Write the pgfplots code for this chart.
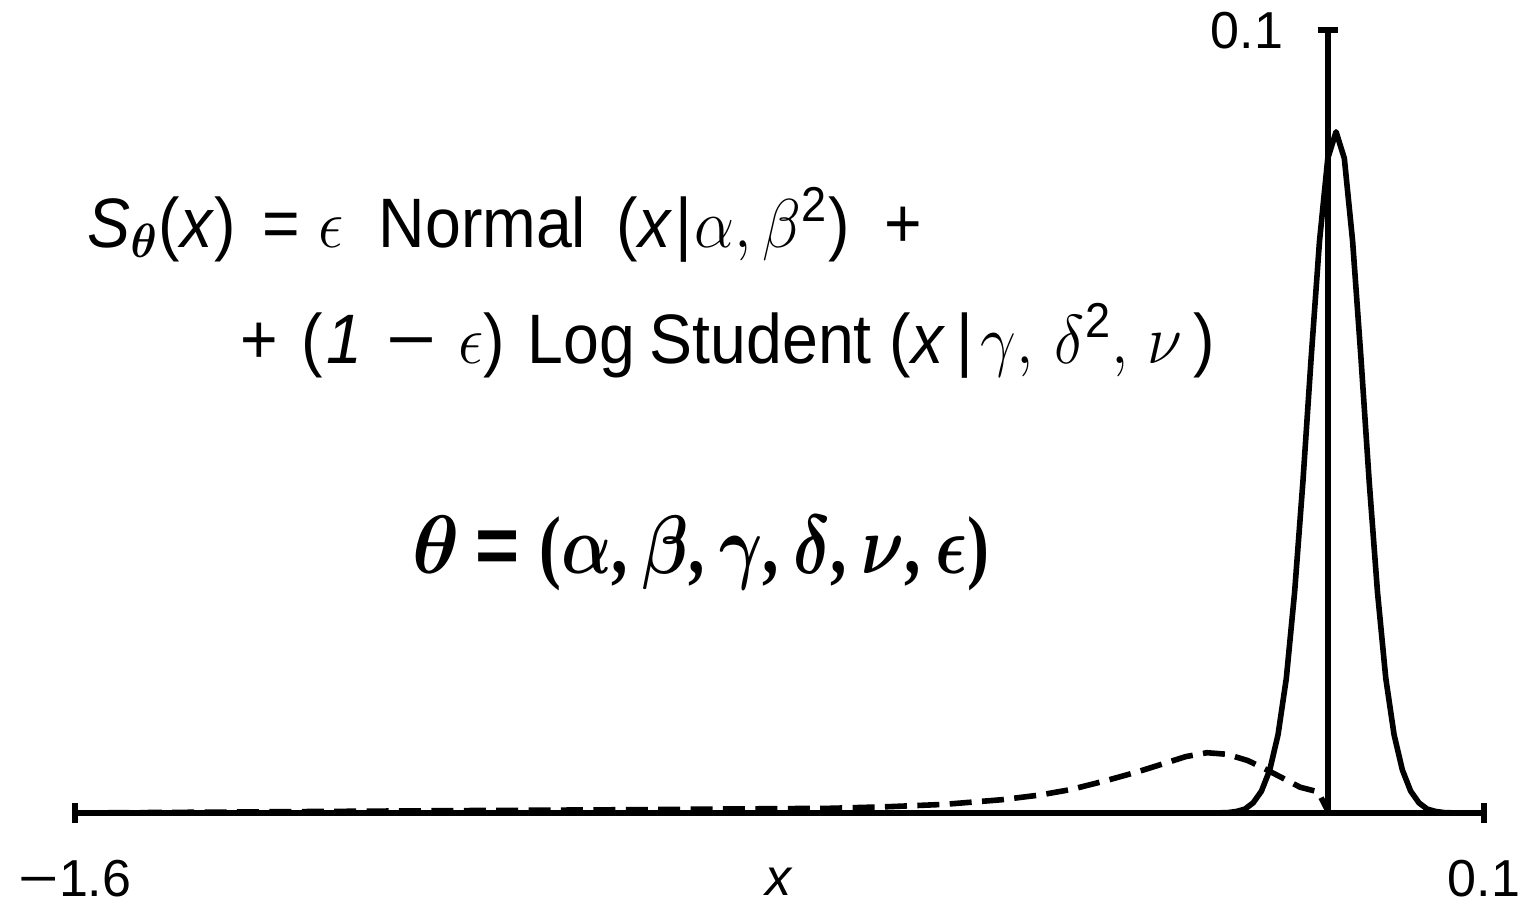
\documentclass[border=0pt]{standalone}
\usepackage{amsmath}
\usepackage{bm}
\usepackage{fontspec}
\setmainfont{Liberation Sans}
\newfontfamily\serifparen{Liberation Serif}
\usepackage{pgfplots}
\pgfplotsset{compat=1.18}

% Normal component (solid)
\pgfplotstableread{
x y
-1.6000 0
-0.2285 0
-0.2185 0.00002
-0.2085 0.00006
-0.1985 0.0002
-0.1885 0.0005
-0.1785 0.0013
-0.1685 0.0028
-0.1585 0.0055
-0.1485 0.0100
-0.1385 0.0172
-0.1285 0.0282
-0.1185 0.0423
-0.1085 0.0582
-0.0985 0.0730
-0.0885 0.0836
-0.0785 0.0870
-0.0685 0.0836
-0.0585 0.0730
-0.0485 0.0582
-0.0385 0.0423
-0.0285 0.0282
-0.0185 0.0172
-0.0085 0.0100
0.0015 0.0055
0.0115 0.0028
0.0215 0.0013
0.0315 0.0005
0.0415 0.0002
0.0515 0.00006
0.0615 0.00002
0.0715 0
0.1000 0
}\normaldens

% Log-Student component (dashed)
\pgfplotstableread{
x y
-1.6000 0.0000
-1.4500 0.0001
-1.3000 0.0002
-1.1500 0.0003
-0.9666 0.0004
-0.8278 0.0005
-0.6890 0.0006
-0.6203 0.0008
-0.5515 0.0011
-0.4815 0.0017
-0.4357 0.0023
-0.3983 0.0030
-0.3572 0.0041
-0.3198 0.0052
-0.2836 0.0064
-0.2600 0.0072
-0.2342 0.0077
-0.2100 0.0075
-0.1850 0.0067
-0.1618 0.0055
-0.1400 0.0043
-0.1220 0.0033
-0.1002 0.0027
-0.0890 0.0004
}\logstudent

\newcommand{\formulafont}{\fontsize{17.5}{21}\selectfont}
\newcommand{\paramfont}{\fontsize{20.5}{24}\selectfont}
\newcommand{\tickfont}{\fontsize{13}{15}\selectfont}
\newcommand{\bparen}[1]{\text{\serifparen\bfseries #1}}
\newcommand{\bcomma}{\text{\serifparen\bfseries ,}\hspace{4.5pt}}
\newcommand{\longminus}{\scalebox{1.33}[1]{−}}
\newcommand{\paramvec}{$\scalebox{1.2}[1]{$\bm{\theta}$}\hspace{5pt}\text{\scalebox{1.15}[1]{\bfseries =}}\hspace{6pt}\bparen{(}\bm{\alpha}\bcomma\bm{\beta}\bcomma\bm{\gamma}\bcomma\bm{\delta}\bcomma\bm{\nu}\bcomma\bm{\epsilon}\bparen{)}$}

\tikzset{
  ftext/.style={anchor=base west, inner sep=0pt, font=\formulafont, xscale=0.92},
}

\begin{document}
\begin{tikzpicture}
\begin{axis}[
  scale only axis,
  width=352.25pt, height=195.75pt,
  xmin=-1.6, xmax=0.1, ymin=0, ymax=0.1,
  axis x line=bottom, axis y line=none,
  axis line style={line width=1.4pt, -},
  xtick={-1.6,0.1},
  xticklabels={{\mbox{\longminus1.6}},{\mbox{0.1}}},
  ytick=\empty,
  tick align=center,
  major tick length=5pt,
  tick style={line width=1.3pt, black},
  xticklabel style={font=\tickfont, anchor=base, yshift=-18.4pt, inner sep=0pt},
  xlabel={\textit{x}},
  x label style={at={(axis description cs:0.5,0)}, anchor=base, yshift=-20.6pt, inner sep=0pt, font=\tickfont},
  clip=false,
]
\addplot[black, line width=1.4pt, line join=round] table {\normaldens};
\addplot[black, line width=1.4pt, dash pattern=on 5.5pt off 2.6pt] table {\logstudent};

\coordinate (origin) at (axis cs:-1.6,0);
\coordinate (ybot) at (axis cs:-0.0882,0);
\coordinate (ytop) at (axis cs:-0.0882,0.1);
\end{axis}

% picture frame
\path ([xshift=-18.75pt,yshift=-22.5pt]origin) rectangle ([xshift=361.75pt,yshift=203.25pt]origin);

% vertical axis with its single tick
\draw[line width=1.4pt] (ybot) -- (ytop);
\draw[line width=1.3pt] ([xshift=-2.6pt]ytop) -- ([xshift=2.6pt]ytop);
\node[anchor=base west, inner sep=0pt, font=\tickfont] at ([xshift=283.75pt,yshift=191.25pt]origin) {0.1};

% model formula, first line
\node[ftext] at ([xshift=3pt,yshift=141.5pt]origin) {\textit{S}$_{\bm{\theta}}$(\textit{x})};
\node[ftext] at ([xshift=46.75pt,yshift=141.5pt]origin) {=};
\node[ftext] at ([xshift=60.75pt,yshift=141.5pt]origin) {$\epsilon$};
\node[ftext] at ([xshift=75.75pt,yshift=141.5pt]origin) {Normal};
\node[ftext] at ([xshift=135.25pt,yshift=141.5pt]origin) {(\textit{x}\kern1pt|\kern0.5pt$\alpha,\beta^{\text{2}}$)};
\node[ftext] at ([xshift=202.25pt,yshift=141.5pt]origin) {+};
% second line
\node[ftext] at ([xshift=41.25pt,yshift=112.5pt]origin) {+};
\node[ftext] at ([xshift=56.5pt,yshift=112.5pt]origin) {(\kern1pt\textit{1}\kern6.5pt\longminus\kern6pt$\epsilon$)};
\node[ftext] at ([xshift=113pt,yshift=112.5pt]origin) {Log};
\node[ftext] at ([xshift=143.5pt,yshift=112.5pt]origin) {Student};
\node[ftext] at ([xshift=203.5pt,yshift=112.5pt]origin) {(\textit{x}\kern3pt|\kern2pt$\gamma,\hspace{3pt}\delta^{\text{2}},\hspace{2pt}\nu$\kern3pt)};
% parameter vector
\node[anchor=base west, inner sep=0pt, font=\paramfont, xscale=0.8] at ([xshift=84.25pt,yshift=60pt]origin) {\paramvec};
\end{tikzpicture}
\end{document}
